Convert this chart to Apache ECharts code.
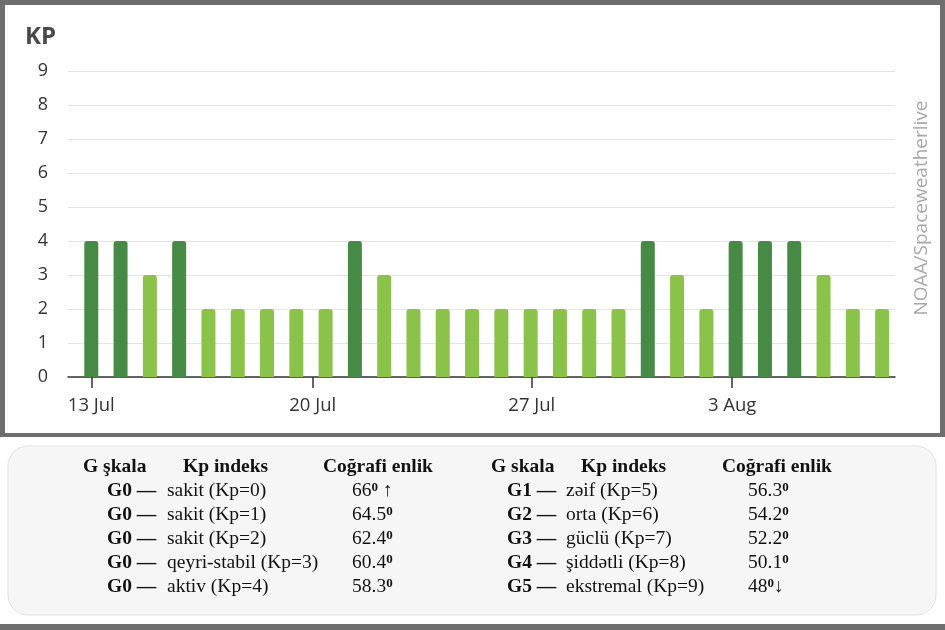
<!DOCTYPE html>
<html>
<head>
<meta charset="utf-8">
<script src="https://cdn.jsdelivr.net/npm/echarts@6/dist/echarts.min.js"></script>
<style>
  html, body { margin: 0; padding: 0; background: #fff; }
  #main { width: 945px; height: 630px; }
</style>
</head>
<body>
<div id="main"></div>
<script>
// daily max Kp, 13 Jul .. 9 Aug
var days = ['13 Jul','14 Jul','15 Jul','16 Jul','17 Jul','18 Jul','19 Jul','20 Jul','21 Jul','22 Jul',
            '23 Jul','24 Jul','25 Jul','26 Jul','27 Jul','28 Jul','29 Jul','30 Jul','31 Jul','1 Aug',
            '2 Aug','3 Aug','4 Aug','5 Aug','6 Aug','7 Aug','8 Aug','9 Aug'];
var kpValues = [4,4,3,4,2,2,2,2,2,4,3,2,2,2,2,2,2,2,2,4,3,2,4,4,4,3,2,2];

// x tick labels and where they sit (in bar units)
var tickLabels = ['13 Jul','20 Jul','27 Jul','3 Aug'];
var tickPositions = [0, 7.56, 15.04, 21.88];

// G scale table
var gLevels = ['G0','G0','G0','G0','G0','G1','G2','G3','G4','G5'];
var kpNames = ['sakit (Kp=0)','sakit (Kp=1)','sakit (Kp=2)','qeyri-stabil (Kp=3)','aktiv (Kp=4)',
               'zəif (Kp=5)','orta (Kp=6)','güclü (Kp=7)','şiddətli (Kp=8)','ekstremal (Kp=9)'];
var latitudes = ['66','64.5','62.4','60.4','58.3','56.3','54.2','52.2','50.1','48'];
var latArrows = [' ↑','','','','','','','','','↓'];

var DARK = '#468a45', LIGHT = '#8bc34a';
var serif = '"Liberation Serif", "Times New Roman", serif';
var sans = '"Open Sans", sans-serif';

var barData = kpValues.map(function (v, i) {
    return { value: [i, v], itemStyle: { color: v >= 4 ? DARK : LIGHT } };
});

var graphics = [
    { type: 'rect', z: -10, shape: { x: 0, y: 0, width: 945, height: 630 }, style: { fill: '#6e6e6e' } },
    { type: 'rect', z: -9, shape: { x: 5, y: 5, width: 935, height: 428 }, style: { fill: '#ffffff' } },
    { type: 'rect', z: -9, shape: { x: 0, y: 437, width: 945, height: 187 }, style: { fill: '#ffffff' } },
    { type: 'rect', z: -8, shape: { x: 8, y: 446, width: 928, height: 169, r: 20 },
      style: { fill: '#f6f6f6', stroke: '#e2e2e2', lineWidth: 1 } },
    { type: 'text', x: 25, y: 37,
      style: { text: 'KP', fontSize: 24, fontWeight: 'bold', fontFamily: sans,
               fill: '#4a4a4a', textVerticalAlign: 'middle' } },
    { type: 'text', x: 922, y: 208, rotation: Math.PI / 2,
      style: { text: 'NOAA/Spaceweatherlive', fontSize: 19, fontFamily: sans,
               fill: '#a9a9a9', textAlign: 'center', textVerticalAlign: 'middle' } }
];

function addText(x, y, text, bold) {
    graphics.push({ type: 'text', x: x, y: y,
        style: { text: text, fontSize: 19.5, fontFamily: serif, fontWeight: bold ? 'bold' : 'normal',
                 fill: '#111', textVerticalAlign: 'middle' } });
}

// two halves of the table
var cols = [
    { head: ['G şkala', 'Kp indeks', 'Coğrafi enlik'], hx: [83, 183, 323], gx: 107, kx: 167, lx: 352 },
    { head: ['G skala', 'Kp indeks', 'Coğrafi enlik'], hx: [491, 581, 722], gx: 507, kx: 566, lx: 748 }
];
cols.forEach(function (c, half) {
    c.head.forEach(function (h, j) { addText(c.hx[j], 467, h, true); });
    for (var r = 0; r < 5; r++) {
        var i = half * 5 + r, y = 491 + r * 24;
        addText(c.gx, y, gLevels[i] + ' —', true);
        addText(c.kx, y, kpNames[i], false);
        graphics.push({ type: 'text', x: c.lx, y: y,
            style: { text: '{n|' + latitudes[i] + '}{s|0}{n|' + latArrows[i] + '}',
                     textVerticalAlign: 'middle',
                     rich: {
                         n: { fontSize: 19.5, fontFamily: serif, fill: '#111' },
                         s: { fontSize: 13, fontFamily: serif, fontWeight: 'bold', fill: '#111', verticalAlign: 'top' }
                     } } });
    }
});

var myChart = echarts.init(document.getElementById('main'));
myChart.setOption({
    animation: false,
    grid: { left: 68, right: 50, top: 71, bottom: 253 },
    xAxis: {
        type: 'value',
        min: -0.795,
        max: 27.44,
        splitLine: { show: false },
        axisLine: { show: true, lineStyle: { color: '#333', width: 1.5 } },
        axisTick: { show: true, length: 11, customValues: tickPositions, lineStyle: { color: '#333', width: 1.5 } },
        axisLabel: {
            customValues: tickPositions,
            margin: 19,
            fontSize: 18.5,
            color: '#333',
            fontFamily: sans,
            formatter: function (val) {
                for (var k = 0; k < tickPositions.length; k++) {
                    if (Math.abs(tickPositions[k] - val) < 1e-6) return tickLabels[k];
                }
                return '';
            }
        }
    },
    yAxis: {
        type: 'value',
        min: 0,
        max: 9,
        interval: 1,
        axisLine: { show: false },
        axisTick: { show: false },
        splitLine: { lineStyle: { color: '#e4e4e4', width: 1 } },
        axisLabel: { fontSize: 18, color: '#333', margin: 20, fontFamily: sans }
    },
    series: [{
        type: 'bar',
        barWidth: 14,
        itemStyle: { borderRadius: [3, 3, 0, 0] },
        data: barData
    }],
    graphic: graphics
});
</script>
</body>
</html>
